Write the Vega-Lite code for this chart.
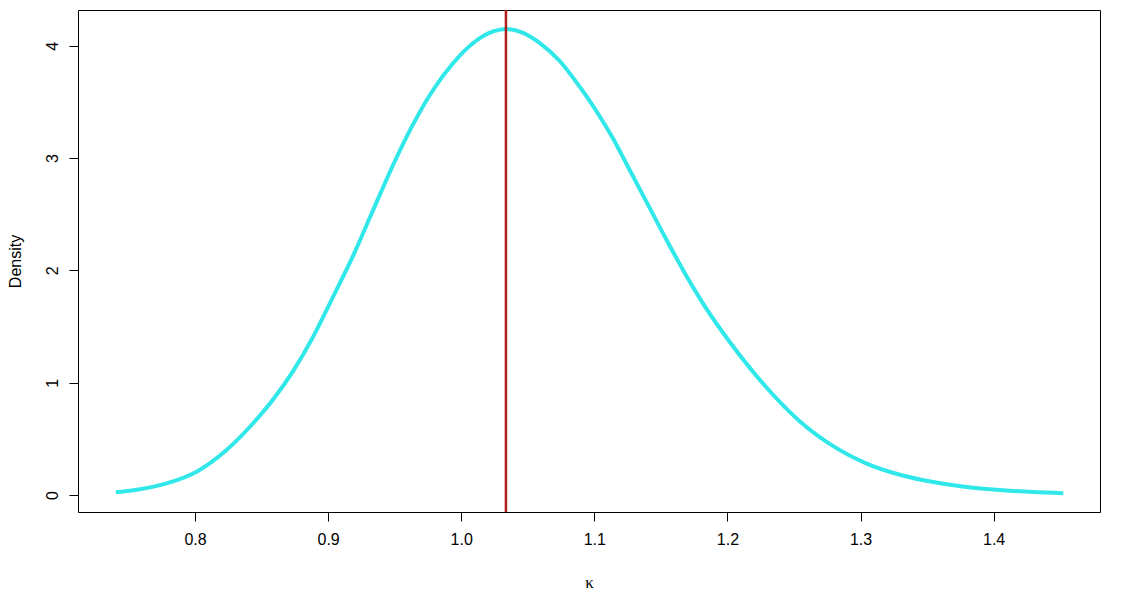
{
  "$schema": "https://vega.github.io/schema/vega-lite/v6.json",
  "width": 1022,
  "height": 502,
  "autosize": {"type": "none"},
  "padding": {"left": 78, "top": 10, "right": 40, "bottom": 98},
  "background": "white",
  "config": {
    "view": {"stroke": "black", "strokeWidth": 1},
    "axis": {"grid": false, "domain": false, "tickColor": "black", "tickSize": 9, "tickWidth": 1, "labelColor": "black", "labelFont": "Liberation Sans", "labelFontSize": 16, "titleColor": "black", "titleFontWeight": "normal"}
  },
  "layer": [
    {
      "data": {"values": [
        {"kappa": 0.7405, "density": 0.024},
        {"kappa": 0.7585, "density": 0.051},
        {"kappa": 0.7787, "density": 0.104},
        {"kappa": 0.8012, "density": 0.208},
        {"kappa": 0.8237, "density": 0.401},
        {"kappa": 0.8437, "density": 0.639},
        {"kappa": 0.8588, "density": 0.852},
        {"kappa": 0.8738, "density": 1.105},
        {"kappa": 0.8888, "density": 1.41},
        {"kappa": 0.9038, "density": 1.767},
        {"kappa": 0.9189, "density": 2.133},
        {"kappa": 0.9339, "density": 2.539},
        {"kappa": 0.9489, "density": 2.94},
        {"kappa": 0.9627, "density": 3.275},
        {"kappa": 0.9790, "density": 3.608},
        {"kappa": 0.9940, "density": 3.846},
        {"kappa": 1.0090, "density": 4.024},
        {"kappa": 1.0240, "density": 4.127},
        {"kappa": 1.0336, "density": 4.149},
        {"kappa": 1.0450, "density": 4.122},
        {"kappa": 1.0591, "density": 4.024},
        {"kappa": 1.0742, "density": 3.862},
        {"kappa": 1.0841, "density": 3.714},
        {"kappa": 1.0942, "density": 3.548},
        {"kappa": 1.1042, "density": 3.368},
        {"kappa": 1.1130, "density": 3.196},
        {"kappa": 1.1243, "density": 2.945},
        {"kappa": 1.1393, "density": 2.607},
        {"kappa": 1.1543, "density": 2.27},
        {"kappa": 1.1693, "density": 1.948},
        {"kappa": 1.1844, "density": 1.655},
        {"kappa": 1.2019, "density": 1.36},
        {"kappa": 1.2295, "density": 0.955},
        {"kappa": 1.2545, "density": 0.655},
        {"kappa": 1.2795, "density": 0.435},
        {"kappa": 1.3046, "density": 0.28},
        {"kappa": 1.3296, "density": 0.18},
        {"kappa": 1.3546, "density": 0.115},
        {"kappa": 1.3797, "density": 0.072},
        {"kappa": 1.4047, "density": 0.045},
        {"kappa": 1.4298, "density": 0.026},
        {"kappa": 1.4523, "density": 0.016}
      ]},
      "mark": {"type": "line", "color": "#30e8ea", "strokeWidth": 4, "interpolate": "monotone", "clip": true},
      "encoding": {
        "x": {"field": "kappa", "type": "quantitative",
          "scale": {"domain": [0.7121, 1.4799], "nice": false, "zero": false},
          "axis": {"values": [0.8, 0.9, 1.0, 1.1, 1.2, 1.3, 1.4], "format": ".1f", "labelPadding": 10, "labelBaseline": "top", "labelFontSize": 16,
            "title": "κ", "titleFont": "Liberation Serif", "titleFontSize": 17, "titleBaseline": "middle", "titleY": 70}},
        "y": {"field": "density", "type": "quantitative",
          "scale": {"domain": [-0.1514, 4.318], "nice": false, "zero": false},
          "axis": {"values": [0, 1, 2, 3, 4], "format": "d", "labelAngle": -90, "labelAlign": "center", "labelBaseline": "bottom", "labelPadding": 9, "labelFontSize": 16,
            "title": "Density", "titleFont": "Liberation Sans", "titleFontSize": 16, "titleAngle": -90, "titleBaseline": "middle", "titleAlign": "center", "titleX": -63, "titleY": 251}}
      }
    },
    {
      "data": {"values": [{"kappa": 1.0336}]},
      "mark": {"type": "rule", "color": "#b01e1e", "strokeWidth": 2.5},
      "encoding": {
        "x": {"field": "kappa", "type": "quantitative"}
      }
    }
  ]
}
